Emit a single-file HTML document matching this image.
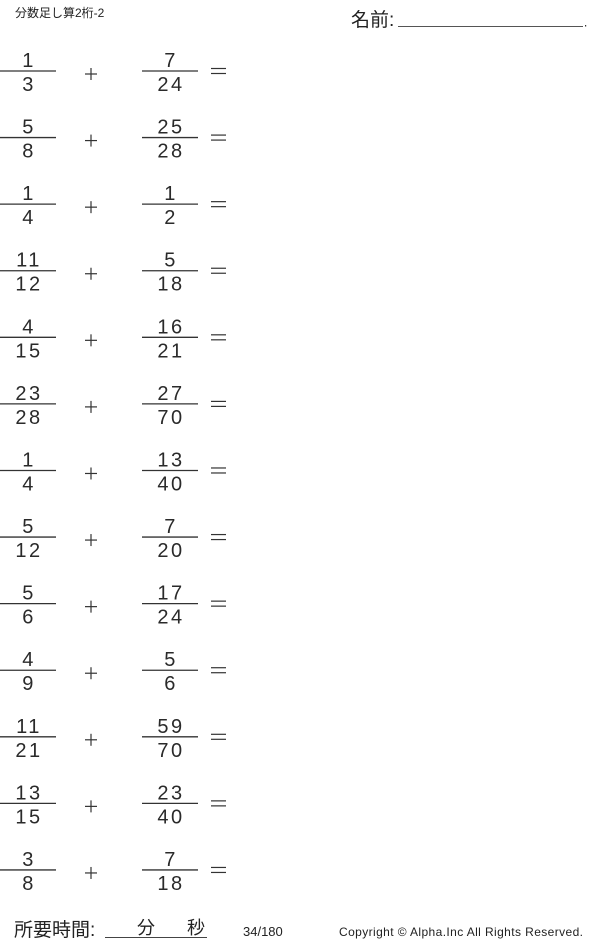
<!DOCTYPE html>
<html><head><meta charset="utf-8"><style>
html,body{margin:0;padding:0;background:#fff;width:600px;height:943px;overflow:hidden}
svg{display:block}
text{font-family:"Liberation Sans","Noto Sans CJK JP",sans-serif;fill:#222}
.f{font-size:20px;text-anchor:middle;letter-spacing:2.5px;fill:#2a2a2a}
line{stroke:#333}
</style></head><body>
<svg width="600" height="943" viewBox="0 0 600 943" xmlns="http://www.w3.org/2000/svg">
<defs>
<g id="r">
<line x1="0" y1="71" x2="56" y2="71" stroke-width="1.3"/>
<line x1="142" y1="71" x2="198" y2="71" stroke-width="1.3"/>
<line x1="85" y1="74" x2="97" y2="74" stroke-width="1.2"/>
<line x1="91" y1="68" x2="91" y2="80" stroke-width="1.2"/>
<line x1="211" y1="68.5" x2="226" y2="68.5" stroke-width="1.2"/>
<line x1="211" y1="73.5" x2="226" y2="73.5" stroke-width="1.2"/>
</g>
</defs>
<text x="15" y="17" font-size="12">分数足し算2桁-2</text>
<text x="351" y="26" font-size="19">名前:</text>
<line x1="398" y1="26.5" x2="583" y2="26.5" stroke-width="1" style="stroke:#555"/>
<rect x="585" y="25" width="1.2" height="1.5" fill="#333"/>

<g transform="translate(0,0)"><use href="#r"/><text class="f" x="29" y="67">1</text><text class="f" x="29" y="91">3</text><text class="f" x="171" y="67">7</text><text class="f" x="171" y="91">24</text></g>
<g transform="translate(0,66.58)"><use href="#r"/><text class="f" x="29" y="67">5</text><text class="f" x="29" y="91">8</text><text class="f" x="171" y="67">25</text><text class="f" x="171" y="91">28</text></g>
<g transform="translate(0,133.16)"><use href="#r"/><text class="f" x="29" y="67">1</text><text class="f" x="29" y="91">4</text><text class="f" x="171" y="67">1</text><text class="f" x="171" y="91">2</text></g>
<g transform="translate(0,199.74)"><use href="#r"/><text class="f" x="29" y="67">11</text><text class="f" x="29" y="91">12</text><text class="f" x="171" y="67">5</text><text class="f" x="171" y="91">18</text></g>
<g transform="translate(0,266.32)"><use href="#r"/><text class="f" x="29" y="67">4</text><text class="f" x="29" y="91">15</text><text class="f" x="171" y="67">16</text><text class="f" x="171" y="91">21</text></g>
<g transform="translate(0,332.9)"><use href="#r"/><text class="f" x="29" y="67">23</text><text class="f" x="29" y="91">28</text><text class="f" x="171" y="67">27</text><text class="f" x="171" y="91">70</text></g>
<g transform="translate(0,399.48)"><use href="#r"/><text class="f" x="29" y="67">1</text><text class="f" x="29" y="91">4</text><text class="f" x="171" y="67">13</text><text class="f" x="171" y="91">40</text></g>
<g transform="translate(0,466.06)"><use href="#r"/><text class="f" x="29" y="67">5</text><text class="f" x="29" y="91">12</text><text class="f" x="171" y="67">7</text><text class="f" x="171" y="91">20</text></g>
<g transform="translate(0,532.64)"><use href="#r"/><text class="f" x="29" y="67">5</text><text class="f" x="29" y="91">6</text><text class="f" x="171" y="67">17</text><text class="f" x="171" y="91">24</text></g>
<g transform="translate(0,599.22)"><use href="#r"/><text class="f" x="29" y="67">4</text><text class="f" x="29" y="91">9</text><text class="f" x="171" y="67">5</text><text class="f" x="171" y="91">6</text></g>
<g transform="translate(0,665.8)"><use href="#r"/><text class="f" x="29" y="67">11</text><text class="f" x="29" y="91">21</text><text class="f" x="171" y="67">59</text><text class="f" x="171" y="91">70</text></g>
<g transform="translate(0,732.38)"><use href="#r"/><text class="f" x="29" y="67">13</text><text class="f" x="29" y="91">15</text><text class="f" x="171" y="67">23</text><text class="f" x="171" y="91">40</text></g>
<g transform="translate(0,798.96)"><use href="#r"/><text class="f" x="29" y="67">3</text><text class="f" x="29" y="91">8</text><text class="f" x="171" y="67">7</text><text class="f" x="171" y="91">18</text></g>

<text x="14" y="936" font-size="19">所要時間:</text>
<line x1="105" y1="937.5" x2="207" y2="937.5" stroke-width="1" style="stroke:#444"/>
<text x="137" y="934" font-size="18">分</text>
<text x="187" y="934" font-size="18">秒</text>
<text x="243" y="936" font-size="13">34/180</text>
<text x="339" y="936" font-size="12" letter-spacing="0.4">Copyright ©  Alpha.Inc All Rights Reserved.</text>
</svg>
</body></html>
